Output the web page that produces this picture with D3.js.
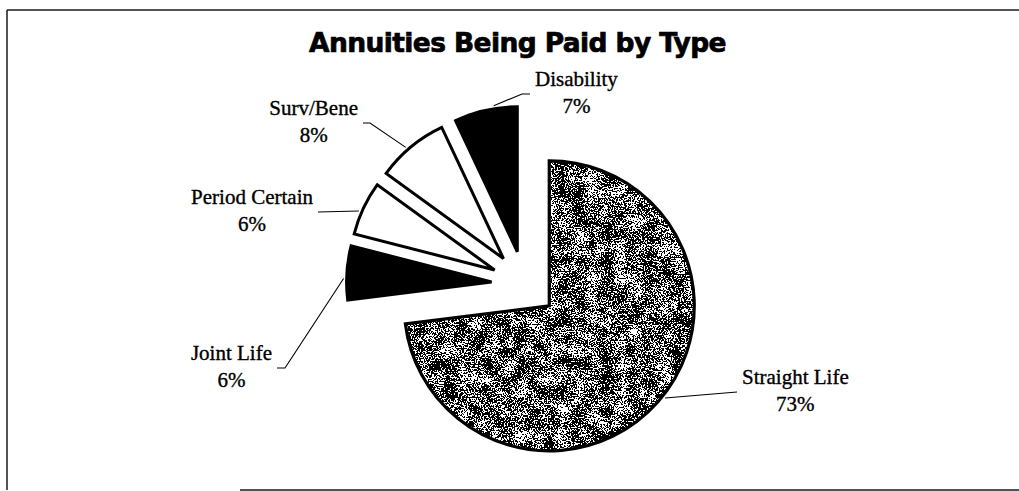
<!DOCTYPE html>
<html>
<head>
<meta charset="utf-8">
<script src="https://cdn.jsdelivr.net/npm/d3@7"></script>
<style>
  html, body { margin: 0; padding: 0; background: #fff; }
  svg { display: block; }
</style>
</head>
<body>
<svg id="chart" width="1019" height="491"></svg>
<script>
// ---- data ----
const title = "Annuities Being Paid by Type";
const categories = ["Straight Life", "Joint Life", "Period Certain", "Surv/Bene", "Disability"];
const values = [73, 6, 6, 8, 7];
const percentLabels = ["73%", "6%", "6%", "8%", "7%"];

// ---- styling / layout (not data) ----
const fillKinds = ["texture", "black", "white", "white", "black"];
// leader layout relative to pie centre: optional elbow, then end point; side of label
const leaderLayout = [
  { elbow: null,           end: [212.5, 108],   side: "right" },
  { elbow: [-239.5, 84],   end: [-247.5, 84],   side: "left"  },
  { elbow: null,           end: [-206.5, -72],  side: "left"  },
  { elbow: [-154.5, -161], end: [-161.5, -161], side: "left"  },
  { elbow: [-2.5, -190],   end: [5.5, -190],    side: "right" }
];
const leaderAngleShift = [-0.05, -0.04, -0.03, -0.03, 0.06]; // radians, where leader touches slice

const W = 1019, H = 491;
const cx = 524.5, cy = 284, radius = 145, explode = 33;

const svg = d3.select("#chart");
const defs = svg.append("defs");

// granite-like texture filter
const f = defs.append("filter").attr("id", "grain")
  .attr("x", 0).attr("y", 0).attr("width", 1).attr("height", 1)
  .attr("color-interpolation-filters", "sRGB");
f.append("feTurbulence").attr("type", "fractalNoise").attr("baseFrequency", 0.7)
  .attr("numOctaves", 2).attr("seed", 7).attr("result", "fine0");
f.append("feColorMatrix").attr("in", "fine0").attr("type", "matrix")
  .attr("values", "1 0 0 0 0  1 0 0 0 0  1 0 0 0 0  0 0 0 0 1").attr("result", "fine");
f.append("feTurbulence").attr("type", "fractalNoise").attr("baseFrequency", 0.07)
  .attr("numOctaves", 3).attr("seed", 23).attr("result", "coarse0");
f.append("feColorMatrix").attr("in", "coarse0").attr("type", "matrix")
  .attr("values", "1 0 0 0 0  1 0 0 0 0  1 0 0 0 0  0 0 0 0 1").attr("result", "coarse");
f.append("feComposite").attr("in", "fine").attr("in2", "coarse").attr("operator", "arithmetic")
  .attr("k1", 0).attr("k2", 0.72).attr("k3", 0.28).attr("k4", 0).attr("result", "mix");
f.append("feColorMatrix").attr("in", "mix").attr("type", "matrix")
  .attr("values", "0 0 0 0 0  0 0 0 0 0  0 0 0 0 0  -1 0 0 0 1").attr("result", "inv");
const ct = f.append("feComponentTransfer").attr("in", "inv");
const table = d3.range(40).map(i => i < 19 ? 0 : 1).join(" ");
ct.append("feFuncA").attr("type", "discrete").attr("tableValues", table);

// frame
const frame = svg.append("g").attr("stroke", "#1a1a1a").attr("stroke-width", 1.5).attr("fill", "none");
frame.append("line").attr("x1", 7).attr("y1", 10).attr("x2", W).attr("y2", 10);
frame.append("line").attr("x1", 7).attr("y1", 10).attr("x2", 7).attr("y2", 490);
frame.append("line").attr("x1", 240).attr("y1", 490).attr("x2", W).attr("y2", 490);

// title
svg.append("text")
  .attr("x", 517.5).attr("y", 52)
  .attr("text-anchor", "middle")
  .attr("font-family", "'DejaVu Sans', Verdana, sans-serif")
  .attr("font-weight", "bold")
  .attr("font-size", 26.5)
  .attr("letter-spacing", -0.6)
  .attr("fill", "#000")
  .attr("stroke", "#000").attr("stroke-width", 0.7)
  .text(title);

// pie
const pie = d3.pie().sort(null).value(d => d);
const arcs = pie(values);
const arc = d3.arc().innerRadius(0).outerRadius(radius);

const offset = d => {
  const m = (d.startAngle + d.endAngle) / 2;
  return [explode * Math.sin(m), -explode * Math.cos(m)];
};

const g = svg.append("g").attr("transform", `translate(${cx},${cy})`);

arcs.forEach((d, i) => {
  const [ox, oy] = offset(d);
  const sg = g.append("g").attr("transform", `translate(${ox},${oy})`);
  const pathD = arc(d);
  const kind = fillKinds[i];
  if (kind === "texture") {
    const clipId = "clip" + i;
    defs.append("clipPath").attr("id", clipId).append("path")
      .attr("d", pathD)
      .attr("transform", `translate(${cx + ox},${cy + oy})`);
    sg.append("path").attr("d", pathD).attr("fill", "#fff");
    svg.append("g").attr("clip-path", `url(#${clipId})`)
      .append("rect")
      .attr("x", cx + ox - radius - 5).attr("y", cy + oy - radius - 5)
      .attr("width", 2 * radius + 10).attr("height", 2 * radius + 10)
      .attr("fill", "#000")
      .attr("filter", "url(#grain)");
    svg.append("path").attr("d", pathD)
      .attr("transform", `translate(${cx + ox},${cy + oy})`)
      .attr("fill", "none").attr("stroke", "#000").attr("stroke-width", 3.2)
      .attr("stroke-linejoin", "miter");
  } else {
    sg.append("path").attr("d", pathD)
      .attr("fill", kind === "black" ? "#000" : "#fff")
      .attr("stroke", "#000").attr("stroke-width", 3)
      .attr("stroke-linejoin", "miter").attr("stroke-miterlimit", 4);
  }
});

// leaders and labels
const lg = svg.append("g").attr("transform", `translate(${cx},${cy})`);
arcs.forEach((d, i) => {
  const [ox, oy] = offset(d);
  const m = (d.startAngle + d.endAngle) / 2 + leaderAngleShift[i];
  const r0 = radius + 3;
  const start = [ox + r0 * Math.sin(m), oy - r0 * Math.cos(m)];
  const L = leaderLayout[i];
  const pts = [start];
  if (L.elbow) pts.push(L.elbow);
  pts.push(L.end);
  lg.append("path")
    .attr("d", d3.line()(pts))
    .attr("fill", "none").attr("stroke", "#000").attr("stroke-width", 1.1);

  const t = lg.append("text")
    .attr("font-family", "'Liberation Serif', 'Times New Roman', serif")
    .attr("font-size", 21)
    .attr("fill", "#000")
    .attr("stroke", "#000").attr("stroke-width", 0.35)
    .attr("text-anchor", "middle");
  const t1 = t.append("tspan").text(categories[i]);
  const t2 = t.append("tspan").text(percentLabels[i]);
  const w = Math.max(t1.node().getComputedTextLength(), t2.node().getComputedTextLength());
  const gap = 5;
  const xc = L.side === "right" ? L.end[0] + gap + w / 2 : L.end[0] - gap - w / 2;
  t1.attr("x", xc).attr("y", L.end[1] - 8);
  t2.attr("x", xc).attr("y", L.end[1] + 19);
});
</script>
</body>
</html>
